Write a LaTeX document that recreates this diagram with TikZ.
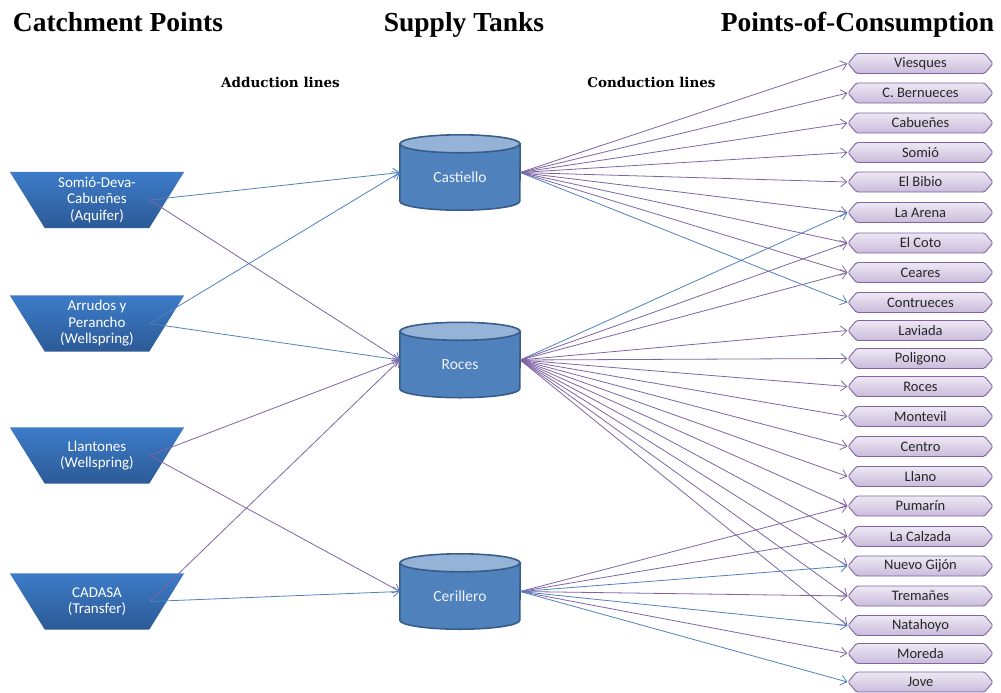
\documentclass[tikz,border=0pt]{standalone}
\usepackage{fontspec}
\setmainfont{Carlito}
\newfontfamily\headfont{Liberation Serif}
\newfontfamily\labfont{DejaVu Serif}
\usetikzlibrary{shapes.symbols,arrows.meta,backgrounds}
\definecolor{pl}{HTML}{8064A2}
\definecolor{bl}{HTML}{4F81BD}
\definecolor{srctop}{HTML}{3D7CC9}
\definecolor{srcbot}{HTML}{2C5A96}
\definecolor{cylbody}{HTML}{4F81BD}
\definecolor{cylline}{HTML}{385D8A}
\definecolor{cyltop}{HTML}{95B3D7}
\definecolor{dsttop}{HTML}{EDE8F3}
\definecolor{dstbot}{HTML}{C9BBDB}
\begin{document}
\begin{tikzpicture}[x=1pt,y=-1pt,
  head/.style={anchor=base,font=\headfont\bfseries\fontsize{27.5}{30}\selectfont,inner sep=0pt},
  sublab/.style={anchor=base,font=\labfont\bfseries\fontsize{13.5}{15}\selectfont,inner sep=0pt},
  src/.style={minimum width=139pt,minimum height=56pt,inner sep=0pt,align=center,text=white,
    font=\fontsize{15}{16.5}\selectfont},
  tank/.style={minimum width=120pt,minimum height=75pt,inner sep=0pt},
  tanktext/.style={text=white!85!cyltop,font=\fontsize{15.5}{17}\selectfont},
  dst/.style={signal,signal to=west and east,signal pointer angle=100,minimum width=145pt,
    minimum height=20pt,inner sep=0pt,draw=pl,line width=0.9pt,top color=dsttop,bottom color=dstbot,
    rounded corners=1.5pt,font=\fontsize{14.5}{14.5}\selectfont,text=black!85},
  con/.style={line width=0.8pt,-{Straight Barb[length=6pt,width=10pt,line width=0.8pt]}},
  pcon/.style={con,draw=pl},
  bcon/.style={con,draw=bl}]
\useasboundingbox (0,0) rectangle (1001,693);

% headings
\node[head] (h1) at (118,32) {Catchment Points};
\node[head] (h2) at (464,32) {Supply Tanks};
\node[head] (h3) at (857.5,32) {Points-of-Consumption};
\node[sublab] (l1) at (280.5,88) {Adduction lines};
\node[sublab] (l2) at (651.5,88) {Conduction lines};

% catchment points
\node[src] (s1) at (97,200) {Somió-Deva-\\Cabueñes\\(Aquifer)};
\node[src] (s2) at (97,323.5) {Arrudos y\\Perancho\\(Wellspring)};
\node[src] (s3) at (97,455.5) {Llantones\\(Wellspring)};
\node[src] (s4) at (97,601.5) {CADASA\\(Transfer)};
\begin{scope}[on background layer]
\foreach \n in {s1,s2,s3,s4}{
  \shade[top color=srctop,bottom color=srcbot]
    ([xshift=-17.5pt]\n.north west) -- ([xshift=17.5pt]\n.north east) --
    ([xshift=-17.5pt]\n.south east) -- ([xshift=17.5pt]\n.south west) -- cycle;
}
\end{scope}

% supply tanks
\node[tank] (c1) at (460,172.5) {};
\node[tank] (c2) at (460,360) {};
\node[tank] (c3) at (460,591.5) {};
\begin{scope}[on background layer]
\foreach \n in {c1,c2,c3}{
  \filldraw[fill=cylbody,draw=cylline,line width=1.6pt]
    ([yshift=-9pt]\n.north west) -- ([yshift=9pt]\n.south west)
    arc[start angle=180,end angle=360,x radius=60pt,y radius=9pt]
    -- ([yshift=-9pt]\n.north east) -- cycle;
  \filldraw[fill=cyltop,draw=cylline,line width=1.6pt]
    ([yshift=-9pt]\n.north) ellipse[x radius=60pt,y radius=9pt];
}
\end{scope}
\node[tanktext] (t1) at ([yshift=-4.5pt]c1.center) {Castiello};
\node[tanktext] (t2) at ([yshift=-4.5pt]c2.center) {Roces};
\node[tanktext] (t3) at ([yshift=-4.5pt]c3.center) {Cerillero};

% points of consumption
\node[dst] (d1) at (920.5,63.5) {Viesques};
\node[dst] (d2) at (920.5,93) {C. Bernueces};
\node[dst] (d3) at (920.5,123) {Cabueñes};
\node[dst] (d4) at (920.5,152.5) {Somió};
\node[dst] (d5) at (920.5,182) {El Bibio};
\node[dst] (d6) at (920.5,212.5) {La Arena};
\node[dst] (d7) at (920.5,243) {El Coto};
\node[dst] (d8) at (920.5,272.5) {Ceares};
\node[dst] (d9) at (920.5,302.5) {Contrueces};
\node[dst] (d10) at (920.5,330.5) {Laviada};
\node[dst] (d11) at (920.5,358.5) {Poligono};
\node[dst] (d12) at (920.5,386.5) {Roces};
\node[dst] (d13) at (920.5,416.5) {Montevil};
\node[dst] (d14) at (920.5,446.5) {Centro};
\node[dst] (d15) at (920.5,476.5) {Llano};
\node[dst] (d16) at (920.5,506) {Pumarín};
\node[dst] (d17) at (920.5,536.5) {La Calzada};
\node[dst] (d18) at (920.5,566) {Nuevo Gijón};
\node[dst] (d19) at (920.5,596) {Tremañes};
\node[dst] (d20) at (920.5,625.5) {Natahoyo};
\node[dst] (d21) at (920.5,653.5) {Moreda};
\node[dst] (d22) at (920.5,682) {Jove};

% adduction lines
\coordinate (o1) at ([xshift=-17pt]s1.east);
\coordinate (o2) at ([xshift=-17pt]s2.east);
\coordinate (o3) at ([xshift=-17pt]s3.east);
\coordinate (o4) at ([xshift=-17pt]s4.east);
\draw[bcon] (o1) -- (c1.west);
\draw[pcon] (o1) -- (c2.west);
\draw[bcon] (o2) -- (c1.west);
\draw[bcon] (o2) -- (c2.west);
\draw[pcon] (o3) -- (c2.west);
\draw[pcon] (o3) -- (c3.west);
\draw[pcon] (o4) -- (c2.west);
\draw[bcon] (o4) -- (c3.west);

% conduction lines
\foreach \d in {d1,d2,d3,d4,d5,d6,d7,d8}{\draw[pcon] (c1.east) -- (\d.west);}
\draw[bcon] (c1.east) -- (d9.west);
\draw[bcon] (c2.east) -- (d6.west);
\foreach \d in {d7,d8,d10,d11,d12,d13,d14,d15,d16,d17,d18,d19,d20}{\draw[pcon] (c2.east) -- (\d.west);}
\foreach \d in {d16,d17,d19,d21}{\draw[pcon] (c3.east) -- (\d.west);}
\foreach \d in {d18,d20,d22}{\draw[bcon] (c3.east) -- (\d.west);}
\end{tikzpicture}
\end{document}
